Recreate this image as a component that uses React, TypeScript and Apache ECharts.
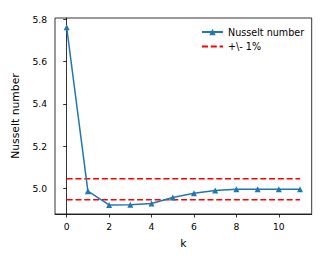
import React, { useEffect, useRef } from "react";
import * as echarts from "echarts";

const kValues = [0, 1, 2, 3, 4, 5, 6, 7, 8, 9, 10, 11];
const nusselt = [5.763, 4.986, 4.921, 4.922, 4.928, 4.956, 4.976, 4.989, 4.995, 4.995, 4.995, 4.995];
const upperBand = 5.045;
const lowerBand = 4.945;
const xTicks = [0, 2, 4, 6, 8, 10];
const yTicks = [5.0, 5.2, 5.4, 5.6, 5.8];

const FONT = "DejaVu Sans";
const FS = 9.2;
const NAME_FS = 10.8;

export default function App() {
  const ref = useRef<HTMLDivElement>(null);
  useEffect(() => {
    if (!ref.current) return;
    const chart = echarts.init(ref.current, null, { renderer: "svg" });
    const axisCommon = {
      axisLine: { show: true, lineStyle: { color: "#000", width: 0.8 } },
      axisTick: { show: true, length: 3.5, lineStyle: { color: "#000", width: 0.8 } },
      splitLine: { show: false },
      nameTextStyle: { fontFamily: FONT, fontSize: NAME_FS, color: "#000" },
    };
    chart.setOption({
      animation: false,
      backgroundColor: "#fff",
      textStyle: { fontFamily: FONT },
      grid: {
        left: 55,
        top: 18,
        width: 256.7,
        height: 196,
        show: true,
        borderColor: "#000",
        borderWidth: 0.8,
        containLabel: false,
      },
      legend: {
        orient: "vertical",
        left: 196,
        top: 22,
        itemWidth: 21,
        itemHeight: 8,
        itemGap: 4.5,
        textStyle: { fontFamily: FONT, fontSize: 9.6, color: "#000" },
        data: [
          { name: "Nusselt number" },
          { name: "+\\- 1%", itemStyle: { opacity: 0 } },
        ],
      },
      xAxis: {
        type: "value",
        min: -0.55,
        max: 11.55,
        name: "k",
        nameLocation: "middle",
        nameGap: 24,
        ...axisCommon,
        axisTick: { ...axisCommon.axisTick, customValues: xTicks },
        axisLabel: {
          customValues: xTicks,
          margin: 8,
          fontFamily: FONT,
          fontSize: FS,
          color: "#000",
        },
      },
      yAxis: {
        type: "value",
        min: 4.878,
        max: 5.807,
        name: "Nusselt number",
        nameLocation: "middle",
        nameGap: 30,
        ...axisCommon,
        axisTick: { ...axisCommon.axisTick, customValues: yTicks },
        axisLabel: {
          customValues: yTicks,
          margin: 8,
          fontFamily: FONT,
          fontSize: FS,
          color: "#000",
          formatter: (v: number) => v.toFixed(1),
        },
      },
      series: [
        {
          name: "Nusselt number",
          type: "line",
          data: kValues.map((k, i) => [k, nusselt[i]]),
          symbol: "triangle",
          symbolSize: 6,
          showAllSymbol: true,
          itemStyle: { color: "#1f77b4" },
          lineStyle: { color: "#1f77b4", width: 1.5 },
          z: 3,
        },
        {
          name: "+\\- 1%",
          type: "line",
          data: [
            [kValues[0], upperBand],
            [kValues[kValues.length - 1], upperBand],
          ],
          symbol: "none",
          itemStyle: { color: "#ff0000" },
          lineStyle: { color: "#ff0000", width: 1.5, type: [6, 2.8] },
          z: 2,
        },
        {
          name: "+\\- 1%",
          type: "line",
          data: [
            [kValues[0], lowerBand],
            [kValues[kValues.length - 1], lowerBand],
          ],
          symbol: "none",
          itemStyle: { color: "#ff0000" },
          lineStyle: { color: "#ff0000", width: 1.5, type: [6, 2.8] },
          z: 2,
        },
      ],
    });
    return () => chart.dispose();
  }, []);
  return (
    <div
      ref={ref}
      style={{ position: "fixed", left: 0, top: 0, width: 330, height: 265 }}
    />
  );
}
